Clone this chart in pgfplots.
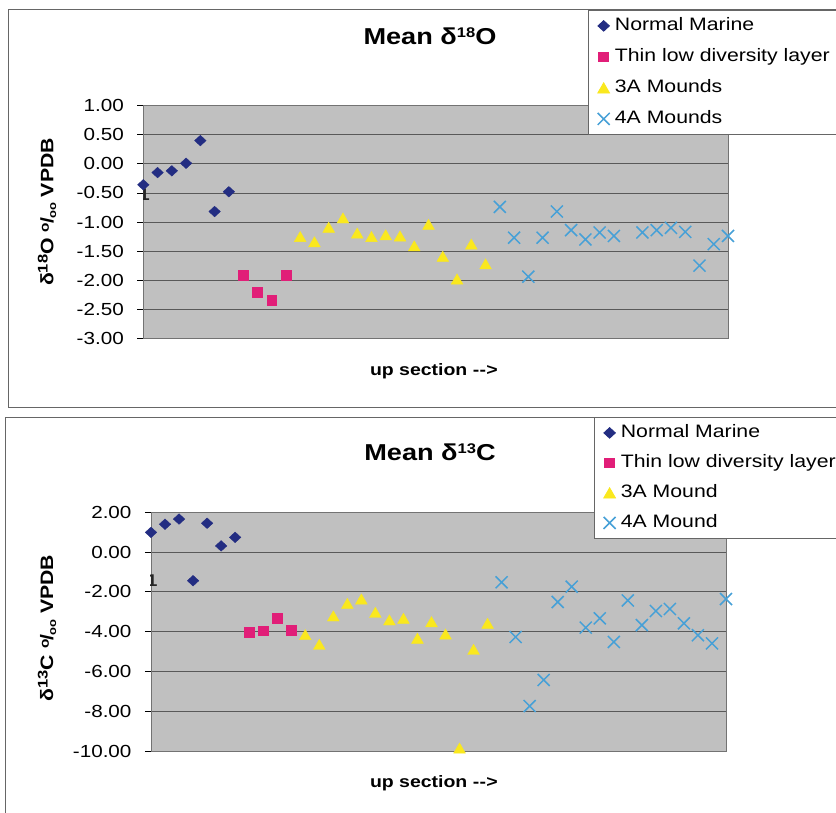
\documentclass[border=0pt]{standalone}
\usepackage{pgfplots}
\pgfplotsset{compat=1.18}
\usepackage{fontspec}
\setmainfont{Liberation Sans}[FakeStretch=1.18]
\definecolor{navy}{RGB}{35,45,130}
\definecolor{mpink}{RGB}{225,30,120}
\definecolor{myel}{RGB}{250,232,30}
\definecolor{mblue}{RGB}{70,160,215}
\definecolor{plotgray}{RGB}{192,192,192}
\newcommand\sups[1]{\raisebox{0.6ex}{\fontsize{14}{14}\selectfont #1}}
\newcommand\permil{\raisebox{0.45ex}{\fontsize{13}{13}\selectfont o}\kern-0.05em/\kern-0.05em\raisebox{-0.3ex}{\fontsize{11}{11}\selectfont oo}}
\newcommand\arr{-\kern0.02em-\kern0.02em>}
\newcommand\one{\textcolor{black!85}{\fontsize{17}{17}\selectfont\bfseries 1}}
\pgfplotsset{
  ptleg/.style={legend image code/.code={\path (-8.5pt,0pt) (8.5pt,0pt); \draw[##1] plot coordinates {(0pt,0pt)};}},
  myax/.style={
    scale only axis, xmin=1, xmax=42,
    axis background/.style={fill=plotgray},
    ymajorgrids, major grid style={draw=black!65, line width=0.8pt},
    xtick=\empty, ytick pos=left, tick align=outside, major tick length=6pt,
    tick style={black, line width=0.8pt},
    axis line style={black!55, line width=0.8pt},
    /pgf/number format/fixed, /pgf/number format/fixed zerofill,
    /pgf/number format/precision=2, /pgf/number format/assume math mode=true,
    yticklabel style={font=\fontsize{17.5}{19}\selectfont, xshift=-10pt},
    title style={font=\bfseries\fontsize{23}{27}\selectfont, anchor=center},
    xlabel style={font=\bfseries\fontsize{16.5}{20}\selectfont, anchor=center},
    ylabel style={font=\bfseries\fontsize{18}{20}\selectfont, anchor=center},
    legend cell align=left,
  },
  mylegend/.style={legend style={draw=black!60, line width=0.8pt, fill=white,
    font=\fontsize{18}{20}\selectfont, inner xsep=6pt, inner ysep=5pt,
    nodes={inner sep=2pt, text height=13pt, text depth=4pt}}},
  nm/.style={only marks, mark=diamond*, mark size=5.3pt, color=navy, mark options={xscale=1.45}, ptleg},
  tl/.style={only marks, mark=square*, mark size=4.8pt, color=mpink, ptleg},
  ta/.style={only marks, mark=triangle*, mark size=6.8pt, color=myel, mark options={yshift=-1.7pt}, ptleg},
  fa/.style={only marks, mark=x, mark size=8.5pt, color=mblue, line width=1.5pt, ptleg},
}
\begin{document}
\begin{tikzpicture}
\path[use as bounding box] (0pt,0pt) rectangle (836pt,812pt);
% panel frames
\draw[black!60, line width=1pt] (860pt,802pt) -- (8pt,802pt) -- (8pt,404pt) -- (860pt,404pt);
\draw[black!60, line width=1pt] (860pt,394.3pt) -- (5pt,394.3pt) -- (5pt,-10pt);

\begin{axis}[myax, mylegend, at={(143.3pt,473.7pt)}, anchor=south west,
  width=584.7pt, height=232.6pt, ymin=-3, ymax=1,
  ytick={-3,-2.5,-2,-1.5,-1,-0.5,0,0.5,1},
  title={Mean δ\sups{18}O}, title style={at={(axis description cs:0.4903,1.274)}},
  xlabel={up section \arr}, xlabel style={at={(axis description cs:0.497,-0.1406)}},
  ylabel={δ\sups{18}O \permil{} VPDB}, ylabel style={at={(axis description cs:-0.1647,0.543)}},
  legend style={at={(0.7606,1.4114)}, anchor=north west, row sep=10pt},
]
\addplot[nm] coordinates {(1,-0.36)(2,-0.15)(3,-0.12)(4,0.01)(5,0.40)(6,-0.82)(7,-0.48)};
\addplot[tl] coordinates {(8,-1.92)(9,-2.21)(10,-2.35)(11,-1.92)};
\addplot[ta] coordinates {(12,-1.25)(13,-1.34)(14,-1.09)(15,-0.93)(16,-1.19)(17,-1.25)(18,-1.22)(19,-1.24)(20,-1.41)(21,-1.04)(22,-1.59)(23,-1.98)(24,-1.38)(25,-1.72)};
\addplot[fa] coordinates {(26,-0.74)(27,-1.27)(28,-1.94)(29,-1.27)(30,-0.82)(31,-1.14)(32,-1.30)(33,-1.18)(34,-1.24)(36,-1.18)(37,-1.14)(38,-1.10)(39,-1.17)(40,-1.75)(41,-1.38)(42,-1.24)};
\node[inner sep=0pt] at (axis cs:1.07,-0.53) {\one};
\legend{Normal Marine, Thin low diversity layer, 3A Mounds, 4A Mounds}
\end{axis}

\begin{axis}[myax, mylegend, at={(151pt,61pt)}, anchor=south west,
  width=575pt, height=238.7pt, ymin=-10, ymax=2,
  ytick={-10,-8,-6,-4,-2,0,2},
  title={Mean δ\sups{13}C}, title style={at={(axis description cs:0.4852,1.2275)}},
  xlabel={up section \arr}, xlabel style={at={(axis description cs:0.492,-0.134)}},
  ylabel={δ\sups{13}C \permil{} VPDB}, ylabel style={at={(axis description cs:-0.1809,0.515)}},
  legend style={at={(0.7704,1.3992)}, anchor=north west, row sep=9pt},
]
\addplot[nm] coordinates {(1,0.99)(2,1.40)(3,1.66)(4,-1.44)(5,1.45)(6,0.31)(7,0.74)};
\addplot[tl] coordinates {(8,-4.03)(9,-3.95)(10,-3.31)(11,-3.94)};
\addplot[ta] coordinates {(12,-4.15)(13,-4.64)(14,-3.21)(15,-2.58)(16,-2.36)(17,-3.03)(18,-3.41)(19,-3.33)(20,-4.33)(21,-3.50)(22,-4.12)(23,-9.85)(24,-4.89)(25,-3.58)};
\addplot[fa] coordinates {(26,-1.52)(27,-4.27)(28,-7.74)(29,-6.43)(30,-2.51)(31,-1.74)(32,-3.80)(33,-3.33)(34,-4.52)(35,-2.43)(36,-3.67)(37,-2.96)(38,-2.86)(39,-3.58)(40,-4.18)(41,-4.59)(42,-2.36)};
\node[inner sep=0pt] at (axis cs:1.07,-1.45) {\one};
\legend{Normal Marine, Thin low diversity layer, 3A Mound, 4A Mound}
\end{axis}
\end{tikzpicture}
\end{document}
